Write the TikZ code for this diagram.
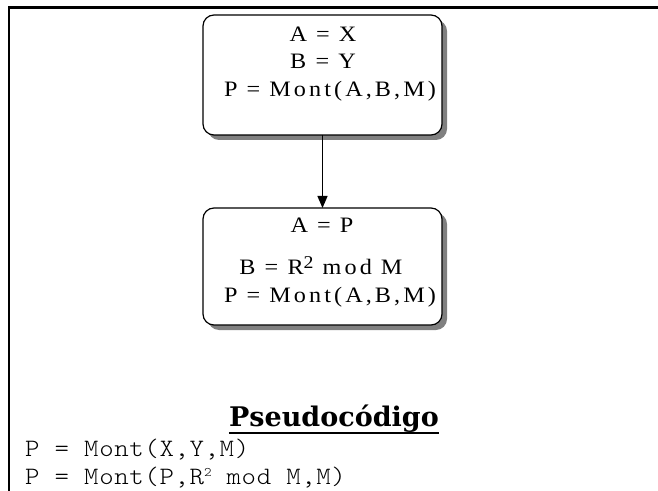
\documentclass[tikz,border=0pt]{standalone}
\usepackage{fontspec}
\setmainfont{Liberation Serif}
\newfontfamily\boxfont[LetterSpace=14,FakeStretch=1.1]{Liberation Serif}
\newfontfamily\titlefont{DejaVu Serif}
\newfontfamily\codefont[FakeStretch=1.1,LetterSpace=2.5]{lmmonolt10-regular.otf}
\usetikzlibrary{arrows.meta}

\begin{document}
\begin{tikzpicture}[x=1bp,y=-1bp,
  stepbox/.style={draw=black, line width=1.2bp, rounded corners=11bp, fill=white,
    minimum width=239bp, inner sep=0pt, outer sep=0pt},
  boxshadow/.style={fill=black!50, rounded corners=11bp,
    minimum width=239bp, inner sep=0pt, outer sep=0pt},
  boxtext/.style={font=\boxfont\fontsize{22bp}{27bp}\selectfont, anchor=base, inner sep=0pt},
  codetext/.style={font=\codefont\fontsize{25bp}{28bp}\selectfont, anchor=base west, inner sep=0pt},
  flow/.style={line width=1.2bp, -{Triangle[width=10bp,length=12bp]}}
]
\useasboundingbox (0,0) rectangle (658,491);

% page frame: top and left rules
\draw[line width=2.2bp] (9,491) -- (9,7.5) -- (658,7.5);

% first step
\node[boxshadow, minimum height=120bp] (s1) at (327.5,80) {};
\node[stepbox, minimum height=120bp] (b1) at (322.5,75) {};
\node[boxtext] (l1a) at (323,42) {A = X};
\node[boxtext] (l1b) at (323,69) {B = Y};
\node[boxtext] (l1c) at (330,97) {P = Mont(A,B,M)};

% second step
\node[boxshadow, minimum height=117bp] (s2) at (327.5,271.5) {};
\node[stepbox, minimum height=117bp] (b2) at (322.5,266.5) {};
\node[boxtext] (l2a) at (322,233) {A = P};
\node[boxtext] (l2b) at (321,274) {B = R\raisebox{6bp}{\fontsize{18bp}{18bp}\selectfont 2} mod M};
\node[boxtext] (l2c) at (330,302) {P = Mont(A,B,M)};

\draw[flow] (b1.south) -- (b2.north);

% pseudocode
\node[font=\titlefont\bfseries\fontsize{27bp}{27bp}\selectfont, anchor=base, inner sep=0pt]
  (title) at (334,426) {Pseudocódigo};
\draw[line width=2bp] ([yshift=-7bp]title.base west) -- ([yshift=-7bp]title.base east);

\node[codetext] (c1) at (25,456) {P = Mont(X,Y,M)};
\node[codetext] (c2) at (25,484) {P = Mont(P,R\raisebox{8bp}{\fontsize{13bp}{13bp}\selectfont 2} mod M,M)};
\end{tikzpicture}
\end{document}
